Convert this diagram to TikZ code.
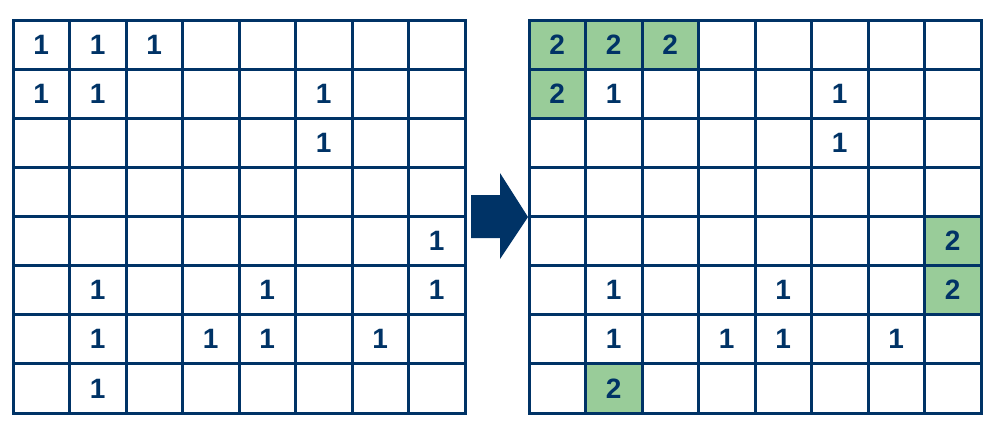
\documentclass[tikz,border=0pt]{standalone}
\usepackage{fontspec}
\setmainfont{Liberation Sans}
\definecolor{navy}{RGB}{0,51,102}
\definecolor{cellgreen}{RGB}{153,204,153}
\begin{document}
\begin{tikzpicture}[x=1pt,y=-1pt,
  gridline/.style={navy, line width=3pt, line cap=rect},
  num/.style={font=\bfseries\fontsize{28}{28}\selectfont, text=navy, inner sep=0pt},
  hl/.style={fill=cellgreen}]
\useasboundingbox (0,0) rectangle (998,432);
\def\cw{56.5}
\def\rh{49.125}
% highlighted cells (right grid)
\foreach \c/\r in {0/0,1/0,2/0,0/1,7/4,7/5,1/7}
  \fill[hl] ({529+\c*\cw},{20+\r*\rh}) rectangle ++(\cw,\rh);
% grids
\foreach \ox in {13,529} {
  \foreach \i in {0,...,8} {
    \draw[gridline] ({\ox+\i*\cw},20) -- ({\ox+\i*\cw},413);
    \draw[gridline] (\ox,{20+\i*\rh}) -- ({\ox+8*\cw},{20+\i*\rh});
  }
}
% left grid numbers
\foreach \r/\c in {0/0,0/1,0/2,1/0,1/1,1/5,2/5,4/7,5/1,5/4,5/7,6/1,6/3,6/4,6/6,7/1}
  \node[num] (L-\r-\c) at ({13+(\c+0.5)*\cw},{20+(\r+0.5)*\rh}) {1};
% right grid numbers
\foreach \r/\c/\v in {0/0/2,0/1/2,0/2/2,1/0/2,1/1/1,1/5/1,2/5/1,4/7/2,5/1/1,5/4/1,5/7/2,6/1/1,6/3/1,6/4/1,6/6/1,7/1/2}
  \node[num] (R-\r-\c) at ({529+(\c+0.5)*\cw},{20+(\r+0.5)*\rh}) {\v};
% arrow
\fill[navy] (471,195) -- (500,195) -- (500,173) -- (528,217) -- (500,259) -- (500,238) -- (471,238) -- cycle;
\end{tikzpicture}
\end{document}
